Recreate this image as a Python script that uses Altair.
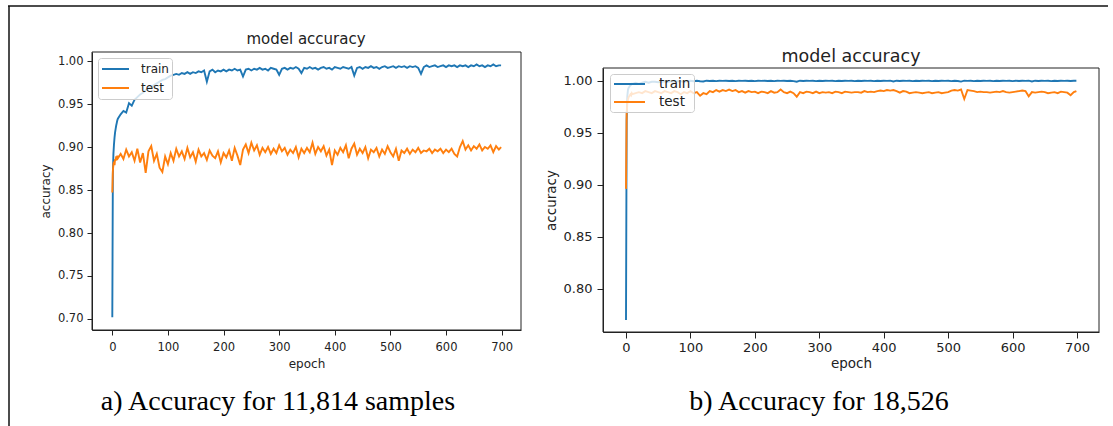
import altair as alt
import pandas as pd

# ---------------- data ----------------
# epochs: every epoch for 0-9, then every 5 epochs, plus the last one
epochs = list(range(10)) + list(range(10, 700, 5)) + [699]
series_names = ["train", "test"]
panel_title = "model accuracy"
captions = ["a) Accuracy for 11,814 samples", "b) Accuracy for 18,526"]
x_ticks = [0, 100, 200, 300, 400, 500, 600, 700]
left_y_ticks = [0.70, 0.75, 0.80, 0.85, 0.90, 0.95, 1.00]
right_y_ticks = [0.80, 0.85, 0.90, 0.95, 1.00]

left_train = [
    0.702, 0.868, 0.892, 0.903, 0.911, 0.917, 0.921, 0.925, 0.928, 0.931,
    0.933, 0.938, 0.942, 0.940, 0.951, 0.948, 0.955, 0.958, 0.961, 0.963,
    0.966, 0.968, 0.970, 0.972, 0.974, 0.976, 0.978, 0.979, 0.981, 0.983,
    0.984, 0.985, 0.984, 0.986, 0.985, 0.987, 0.985, 0.987, 0.986, 0.988,
    0.987, 0.989, 0.976, 0.988, 0.990, 0.987, 0.989, 0.988, 0.990, 0.988,
    0.990, 0.989, 0.991, 0.989, 0.990, 0.982, 0.990, 0.991, 0.989, 0.991,
    0.990, 0.992, 0.990, 0.991, 0.989, 0.992, 0.991, 0.990, 0.984, 0.991,
    0.992, 0.990, 0.992, 0.991, 0.993, 0.991, 0.986, 0.992, 0.991, 0.993,
    0.991, 0.992, 0.990, 0.992, 0.993, 0.991, 0.992, 0.990, 0.993, 0.992,
    0.991, 0.993, 0.992, 0.991, 0.993, 0.983, 0.992, 0.993, 0.991, 0.993,
    0.992, 0.994, 0.992, 0.993, 0.991, 0.993, 0.994, 0.992, 0.993, 0.994,
    0.992, 0.994, 0.993, 0.994, 0.992, 0.994, 0.993, 0.994, 0.992, 0.985,
    0.993, 0.995, 0.993, 0.994, 0.995, 0.993, 0.994, 0.995, 0.993, 0.995,
    0.994, 0.995, 0.993, 0.995, 0.994, 0.995, 0.993, 0.995, 0.994, 0.996,
    0.994, 0.995, 0.993, 0.995, 0.994, 0.996, 0.994, 0.995,
    0.995,
]
left_test = [
    0.847, 0.872, 0.880, 0.883, 0.879, 0.886, 0.884, 0.889, 0.885, 0.890,
    0.887, 0.892, 0.886, 0.897, 0.889, 0.894, 0.884, 0.898, 0.882, 0.893,
    0.870, 0.895, 0.901, 0.884, 0.892, 0.876, 0.871, 0.889, 0.880, 0.893,
    0.884, 0.898, 0.889, 0.895, 0.886, 0.899, 0.888, 0.894, 0.883, 0.897,
    0.889, 0.893, 0.885, 0.896, 0.890, 0.887, 0.895, 0.882, 0.893, 0.888,
    0.896, 0.884, 0.899, 0.890, 0.879, 0.897, 0.903, 0.893, 0.905, 0.896,
    0.902, 0.891, 0.899, 0.894, 0.900, 0.892, 0.898, 0.893, 0.902, 0.895,
    0.899, 0.891, 0.897, 0.893, 0.900, 0.888, 0.898, 0.893, 0.899, 0.894,
    0.905, 0.892, 0.900, 0.895, 0.901, 0.890, 0.897, 0.879, 0.896, 0.891,
    0.899, 0.894, 0.902, 0.887, 0.898, 0.904, 0.891, 0.898, 0.893, 0.900,
    0.887, 0.897, 0.894, 0.899, 0.889, 0.897, 0.892, 0.901, 0.894, 0.889,
    0.898, 0.884, 0.896, 0.893, 0.898, 0.892, 0.897, 0.894, 0.899, 0.893,
    0.896, 0.895, 0.898, 0.893, 0.897, 0.895, 0.898, 0.893, 0.897, 0.894,
    0.898, 0.892, 0.889, 0.900, 0.907, 0.897, 0.902, 0.896, 0.901, 0.898,
    0.903, 0.896, 0.900, 0.898, 0.902, 0.894, 0.901, 0.897,
    0.900,
]
right_train = [
    0.770, 0.962, 0.985, 0.991, 0.993, 0.994, 0.995, 0.996, 0.996, 0.997,
    0.997, 0.998, 0.997, 0.998, 0.999, 0.998, 0.999, 0.999, 0.9985, 0.999,
    0.9995, 0.999, 0.9995, 0.999, 0.9995, 0.9995, 0.999, 0.9995, 1.000, 0.9995,
    1.000, 0.9995, 0.9992, 1.000, 0.9997, 1.000, 0.9996, 1.000, 0.9998, 1.000,
    0.9997, 1.000, 0.9996, 1.000, 0.9998, 1.000, 0.9997, 1.000, 0.9996, 1.000,
    0.9998, 1.000, 0.9997, 1.000, 0.9996, 1.000, 0.9998, 1.000, 0.9997, 1.000,
    0.9996, 0.9990, 1.000, 0.9997, 1.000, 0.9998, 1.000, 0.9996, 1.000, 0.9997,
    1.000, 0.9998, 1.000, 0.9996, 1.000, 0.9997, 1.000, 0.9998, 1.000, 0.9996,
    1.000, 0.9997, 1.000, 0.9998, 1.000, 0.9996, 1.000, 0.9997, 1.000, 0.9998,
    1.000, 0.9993, 1.000, 0.9997, 1.000, 0.9998, 1.000, 0.9996, 1.000, 0.9997,
    1.000, 0.9998, 1.000, 0.9996, 1.000, 0.9997, 1.000, 0.9998, 1.000, 0.9996,
    1.000, 0.9997, 0.9991, 1.000, 0.9998, 1.000, 0.9996, 1.000, 0.9997, 1.000,
    0.9998, 1.000, 0.9996, 1.000, 0.9997, 1.000, 0.9998, 1.000, 0.9996, 1.000,
    0.9997, 1.000, 0.9998, 1.000, 0.9993, 1.000, 0.9997, 1.000, 0.9998, 1.000,
    0.9996, 1.000, 0.9997, 1.000, 0.9998, 1.000, 0.9997, 1.000,
    1.000,
]
right_test = [
    0.896, 0.968, 0.978, 0.982, 0.984, 0.985, 0.986, 0.987, 0.986, 0.988,
    0.987, 0.988, 0.989, 0.988, 0.990, 0.989, 0.988, 0.990, 0.989, 0.988,
    0.990, 0.989, 0.988, 0.990, 0.989, 0.987, 0.989, 0.988, 0.990, 0.988,
    0.989, 0.9855, 0.988, 0.987, 0.990, 0.989, 0.991, 0.9895, 0.991, 0.990,
    0.9915, 0.990, 0.991, 0.989, 0.990, 0.9885, 0.990, 0.989, 0.9895, 0.988,
    0.9895, 0.989, 0.988, 0.990, 0.9885, 0.989, 0.9915, 0.989, 0.988, 0.9895,
    0.988, 0.9846, 0.989, 0.988, 0.9895, 0.989, 0.988, 0.9895, 0.988, 0.989,
    0.9885, 0.989, 0.988, 0.9895, 0.989, 0.988, 0.9895, 0.989, 0.9885, 0.989,
    0.989, 0.9885, 0.990, 0.989, 0.9895, 0.989, 0.990, 0.9905, 0.990, 0.991,
    0.9905, 0.991, 0.990, 0.9885, 0.990, 0.9895, 0.988, 0.9885, 0.989, 0.9885,
    0.988, 0.9885, 0.989, 0.988, 0.9885, 0.989, 0.988, 0.9885, 0.989, 0.9905,
    0.991, 0.9905, 0.9915, 0.9824, 0.991, 0.9905, 0.990, 0.989, 0.9895, 0.989,
    0.989, 0.9885, 0.989, 0.9895, 0.989, 0.990, 0.989, 0.9885, 0.989, 0.9895,
    0.990, 0.9905, 0.990, 0.985, 0.989, 0.9885, 0.989, 0.9895, 0.989, 0.988,
    0.9885, 0.989, 0.988, 0.9895, 0.989, 0.9885, 0.986, 0.989,
    0.990,
]

# ---------------- styling ----------------
BLUE, ORANGE = "#1f77b4", "#ff7f0e"
INK = "#222222"
SANS = "DejaVu Sans"


def long_df(train, test, prefix):
    wide = pd.DataFrame({"epoch": epochs, "train": train, "test": test})
    df = wide.melt(id_vars="epoch", var_name="series", value_name="accuracy")
    return df.rename(columns={"epoch": prefix + "_epoch", "accuracy": prefix + "_acc"})


def panel(df, prefix, xdom, xrange, ydom, yrange, yticks, xoff, yoff,
          lab, ttl, tick, xlpad, xtpad, ylpad, legend_xy, leg_font, leg_len,
          leg_pad, leg_clip, leg_row, leg_off):
    x = alt.X(prefix + "_epoch:Q",
              scale=alt.Scale(domain=xdom, range=xrange, nice=False, zero=False),
              axis=alt.Axis(orient="bottom", offset=xoff, values=x_ticks, format="d",
                            title="epoch", grid=False, labelFont=SANS, titleFont=SANS,
                            labelFontSize=lab, titleFontSize=ttl, titleFontWeight="normal",
                            labelColor=INK, titleColor=INK, domainColor=INK, tickColor=INK,
                            tickSize=tick, labelPadding=xlpad, titlePadding=xtpad))
    y = alt.Y(prefix + "_acc:Q",
              scale=alt.Scale(domain=ydom, range=yrange, nice=False, zero=False),
              axis=alt.Axis(orient="left", offset=yoff, values=yticks, format=".2f",
                            title="accuracy", grid=False, labelFont=SANS, titleFont=SANS,
                            labelFontSize=lab, titleFontSize=ttl, titleFontWeight="normal",
                            labelColor=INK, titleColor=INK, domainColor=INK, tickColor=INK,
                            tickSize=tick, labelPadding=ylpad, titlePadding=5))
    legend = alt.Legend(orient="none", legendX=legend_xy[0], legendY=legend_xy[1],
                        symbolType="stroke", symbolSize=leg_len * leg_len,
                        symbolStrokeWidth=2, labelFont=SANS, labelFontSize=leg_font,
                        labelColor=INK, padding=leg_pad, rowPadding=leg_row,
                        clipHeight=leg_clip, fillColor="rgba(255,255,255,0.8)",
                        strokeColor="#cccccc", cornerRadius=3, labelOffset=leg_off)
    color = alt.Color("series:N", title=None,
                      scale=alt.Scale(domain=series_names, range=[BLUE, ORANGE]),
                      legend=legend)
    layers = []
    for name in series_names:
        layers.append(
            alt.Chart(df).transform_filter(alt.datum.series == name)
            .mark_line(strokeWidth=1.9)
            .encode(x=x, y=y, color=color)
        )
    return alt.layer(*layers)


left_df = long_df(left_train, left_test, "l")
right_df = long_df(right_train, right_test, "r")

left = panel(left_df, "l", [-36.5, 734.8], [92, 521], [0.6872, 1.0105], [330, 52],
             left_y_ticks, -96, -92, 11.5, 12, 5, 6, 6, 4, (98, 58), 12, 27, 3, 16, 3, 11)
right = panel(right_df, "r", [-35.7, 734.1], [603, 1099], [0.7584, 1.0122], [332, 68],
              right_y_ticks, -94, -603, 13, 13.5, 6, 3, 2, 5, (610, 74), 13.5, 31, 3, 14, 4, 13)

one = pd.DataFrame({"k": [0]})

# plot frames (top / right spines)
frames = [
    alt.Chart(one).mark_rect(filled=False, stroke=INK, strokeWidth=1).encode(
        x=alt.value(92), x2=alt.value(521), y=alt.value(52), y2=alt.value(330)),
    alt.Chart(one).mark_rect(filled=False, stroke=INK, strokeWidth=1).encode(
        x=alt.value(603), x2=alt.value(1099), y=alt.value(68), y2=alt.value(332)),
]

titles_df = pd.DataFrame({"t": [panel_title]})
titles = [
    alt.Chart(titles_df).mark_text(font=SANS, fontSize=15, color=INK, baseline="alphabetic",
                                   align="center").encode(text="t:N", x=alt.value(306), y=alt.value(44)),
    alt.Chart(titles_df).mark_text(font=SANS, fontSize=17.5, color=INK, baseline="alphabetic",
                                   align="center").encode(text="t:N", x=alt.value(851), y=alt.value(62)),
]

cap_l = pd.DataFrame({"c": [captions[0]]})
cap_r = pd.DataFrame({"c": [captions[1]]})
caps = [
    alt.Chart(cap_l).mark_text(font="Liberation Serif", fontSize=28, color="#000000",
                               baseline="alphabetic", align="center").encode(
        text="c:N", x=alt.value(278), y=alt.value(410)),
    alt.Chart(cap_r).mark_text(font="Liberation Serif", fontSize=28, color="#000000",
                               baseline="alphabetic", align="center").encode(
        text="c:N", x=alt.value(819), y=alt.value(410)),
]

borders = [
    alt.Chart(one).mark_rule(stroke="#111111", strokeWidth=1.5).encode(
        x=alt.value(8), x2=alt.value(1108), y=alt.value(6)),
    alt.Chart(one).mark_rule(stroke="#111111", strokeWidth=1.5).encode(
        x=alt.value(9), y=alt.value(6), y2=alt.value(426)),
]

chart = alt.layer(left, right, *frames, *titles, *caps, *borders).resolve_scale(
    x="independent", y="independent", color="independent"
).resolve_axis(
    x="independent", y="independent"
).resolve_legend(
    color="independent"
).properties(
    width=1113, height=426, autosize=alt.AutoSizeParams(type="none"), padding=0,
    background="white"
).configure_view(stroke=None)

chart.save("out.html", embed_options={"renderer": "svg", "actions": False})
